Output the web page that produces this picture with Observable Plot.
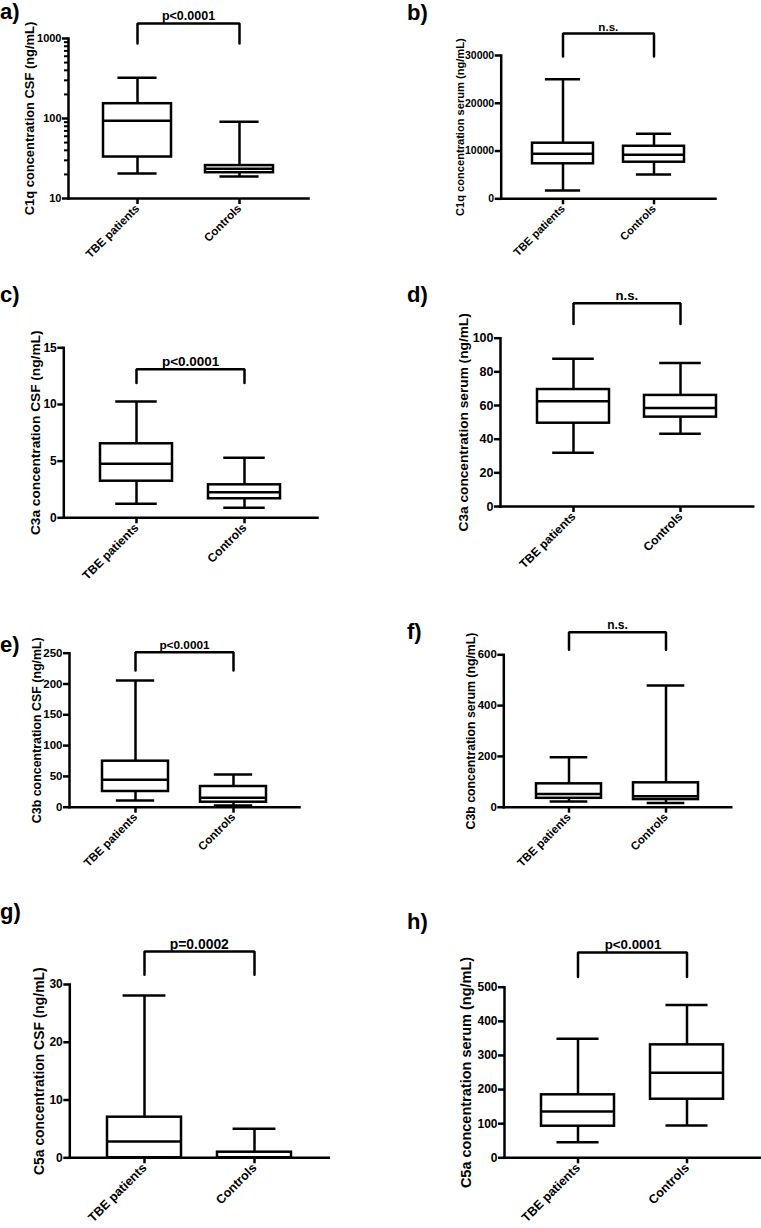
<!DOCTYPE html>
<html><head><meta charset="utf-8">
<script src="https://cdn.jsdelivr.net/npm/d3@7"></script>
<script src="https://cdn.jsdelivr.net/npm/@observablehq/plot@0.6"></script>
<style>
html,body{margin:0;padding:0;background:#fff;}
#root{position:relative;width:761px;height:1228px;overflow:hidden;font-family:"Liberation Sans",Arial,Helvetica,sans-serif;}
.panel-label{position:absolute;font-weight:bold;font-size:22px;line-height:22px;color:#000;white-space:nowrap;}
.panel{position:absolute;}
</style></head><body><div id="root"></div>
<script>
// ---------- data ----------
const categories = ["TBE patients", "Controls"];
const panelIds = ["a", "b", "c", "d", "e", "f", "g", "h"];
const yTitles = [
  "C1q concentration CSF (ng/mL)",
  "C1q concentration serum (ng/mL)",
  "C3a concentration CSF (ng/mL)",
  "C3a concentration serum (ng/mL)",
  "C3b concentration CSF (ng/mL)",
  "C3b concentration serum (ng/mL)",
  "C5a concentration CSF (ng/mL)",
  "C5a concentration serum (ng/mL)"
];
const pLabels = ["p<0.0001", "n.s.", "p<0.0001", "n.s.", "p<0.0001", "n.s.", "p=0.0002", "p<0.0001"];
const yDomains = [[10, 1000], [0, 30000], [0, 15], [0, 100], [0, 250], [0, 600], [0, 30], [0, 500]];
const yTicks = [
  [10, 100, 1000],
  [0, 10000, 20000, 30000],
  [0, 5, 10, 15],
  [0, 20, 40, 60, 80, 100],
  [0, 50, 100, 150, 200, 250],
  [0, 200, 400, 600],
  [0, 10, 20, 30],
  [0, 100, 200, 300, 400, 500]
];
const yMinorTicksA = [20, 30, 40, 50, 60, 70, 80, 90, 200, 300, 400, 500, 600, 700, 800, 900];
// each entry: [TBE patients, Controls]
const whiskerLow  = [[20.5, 18.8], [1740, 5090], [1.24, 0.88], [31.9, 43.2], [10.9, 2.8], [22, 17], [0, 0], [45.7, 94.6]];
const quart1      = [[33, 21], [7330, 7660], [3.23, 1.68], [49.5, 53.1], [25.5, 8.1], [35, 30], [0, 0], [92.6, 171.7]];
const medians     = [[94, 23.5], [9420, 9210], [4.77, 2.26], [62.6, 58.6], [44.5, 15.2], [52, 43], [2.82, 0.1], [135.7, 249]];
const quart3      = [[153, 25.8], [11640, 11000], [6.53, 2.91], [69.5, 66], [74.7, 33.6], [92, 96], [7.03, 0.97], [184.6, 331]];
const whiskerHigh = [[323, 91], [25040, 13600], [10.26, 5.3], [87.8, 85.2], [205.7, 53], [197, 479], [28.1, 5.02], [348.7, 448]];
// significance bracket (data units of each panel's y scale)
const bracketTop = [1540, 34600, 13.1, 120.8, 251.6, 689, 35.7, 602];
const bracketLeg = [866, 29800, 11.9, 108.5, 222, 620, 31.7, 530];

// ---------- layout (page pixels) ----------
const layout = {
  a: {left: 0,   top: 0,   width: 380, height: 270, frame: [68, 308, 38, 198],       label: [0, 1],     title: 12.9, tick: 11,   xtick: 11.5, p: 12.5, gap: 35},
  b: {left: 380, top: 0,   width: 381, height: 270, frame: [500.7, 715, 55, 198.3],  label: [407, 2],   title: 11.1, tick: 10.5, xtick: 11,   p: 11.6, gap: 37},
  c: {left: 0,   top: 270, width: 380, height: 330, frame: [63.3, 317, 347.3, 517.3], label: [0, 284.4], title: 13.7, tick: 12,   xtick: 12,   p: 13.5, gap: 24},
  d: {left: 380, top: 270, width: 381, height: 330, frame: [500, 752.7, 337.7, 506], label: [407, 283.7], title: 13.7, tick: 12.5, xtick: 12,   p: 13.2, gap: 33},
  e: {left: 0,   top: 590, width: 380, height: 290, frame: [69, 299, 652.7, 806.7],  label: [0, 634.4], title: 12.4, tick: 11.5, xtick: 11.5, p: 11.8, gap: 29},
  f: {left: 380, top: 590, width: 381, height: 290, frame: [503.3, 730.7, 654.3, 806.7], label: [407, 621.4], title: 12.3, tick: 11.4, xtick: 11.5, p: 12, gap: 29},
  g: {left: 0,   top: 880, width: 380, height: 348, frame: [69.3, 328.3, 984, 1157.3], label: [0, 900.7], title: 13.9, tick: 12, xtick: 12.5, p: 13.9, gap: 26},
  h: {left: 380, top: 880, width: 381, height: 348, frame: [504, 761, 986.7, 1157.3], label: [407, 910.7], title: 14.5, tick: 12, xtick: 12.5, p: 13.3, gap: 34}
};

const root = document.getElementById("root");
const FONT = '"Liberation Sans", Arial, Helvetica, sans-serif';
const sw = 2.5;

panelIds.forEach((id, k) => {
  const L = layout[id];
  const rows = categories.map((c, i) => ({
    cat: c, lo: whiskerLow[k][i], q1: quart1[k][i], med: medians[k][i], q3: quart3[k][i], hi: whiskerHigh[k][i]
  }));
  const bracket = [
    {cat: categories[0], y: bracketLeg[k]},
    {cat: categories[0], y: bracketTop[k]},
    {cat: categories[1], y: bracketTop[k]},
    {cat: categories[1], y: bracketLeg[k]}
  ];
  const [fl, fr, ft, fb] = L.frame;
  const marginLeft = fl - L.left;
  const marginRight = L.left + L.width - fr;
  const marginTop = ft - L.top;
  const marginBottom = L.top + L.height - fb;
  const frameW = fr - fl;
  const bandW = frameW / 2.34 * 0.67;
  const capInset = bandW * 0.21;

  const chart = Plot.plot({
    width: L.width, height: L.height,
    marginLeft, marginRight, marginTop, marginBottom,
    style: {background: "none", overflow: "visible", fontFamily: FONT, fontWeight: "bold", color: "#000"},
    x: {type: "band", domain: categories, paddingInner: 0.33, paddingOuter: 0.335},
    y: {type: k === 0 ? "log" : "linear", domain: yDomains[k]},
    marks: [
      Plot.ruleX(rows, {x: "cat", y1: "lo", y2: "q1", stroke: "#000", strokeWidth: sw}),
      Plot.ruleX(rows, {x: "cat", y1: "q3", y2: "hi", stroke: "#000", strokeWidth: sw}),
      Plot.barY(rows, {x: "cat", y1: "q1", y2: "q3", fill: "white", stroke: "#000", strokeWidth: sw}),
      Plot.tickY(rows, {x: "cat", y: "med", stroke: "#000", strokeWidth: sw}),
      Plot.tickY(rows, {x: "cat", y: "lo", stroke: "#000", strokeWidth: sw, insetLeft: capInset, insetRight: capInset}),
      Plot.tickY(rows, {x: "cat", y: "hi", stroke: "#000", strokeWidth: sw, insetLeft: capInset, insetRight: capInset}),
      Plot.line(bracket, {x: "cat", y: "y", stroke: "#000", strokeWidth: sw, strokeLinejoin: "miter"}),
      Plot.text([{label: pLabels[k], y: bracketTop[k]}], {y: "y", text: "label", frameAnchor: "middle", textAnchor: "middle", lineAnchor: "bottom", dy: -3, fontSize: L.p, fill: "#000"}),
      Plot.axisY({ticks: yTicks[k], tickSize: 6, tickPadding: 1, strokeWidth: sw, label: null, fontSize: L.tick, tickFormat: d => String(d)}),
      k === 0 ? Plot.axisY({ticks: yMinorTicksA, tickSize: 4, strokeWidth: 2, label: null, tickFormat: () => ""}) : null,
      Plot.axisX({tickSize: 6, tickPadding: 2, strokeWidth: sw, tickRotate: -45, label: null, fontSize: L.xtick}),
      Plot.frame({anchor: "left", stroke: "#000", strokeWidth: sw}),
      Plot.frame({anchor: "bottom", stroke: "#000", strokeWidth: sw}),
      Plot.text([yTitles[k]], {frameAnchor: "left", textAnchor: "middle", rotate: -90, dx: -L.gap, lineAnchor: "bottom", fontSize: L.title, fill: "#000"})
    ]
  });
  chart.classList.add("panel");
  chart.style.left = L.left + "px";
  chart.style.top = L.top + "px";
  root.appendChild(chart);

  const lab = document.createElement("div");
  lab.className = "panel-label";
  lab.textContent = id + ")";
  lab.style.left = L.label[0] + "px";
  lab.style.top = L.label[1] + "px";
  root.appendChild(lab);
});
</script>
</body></html>
